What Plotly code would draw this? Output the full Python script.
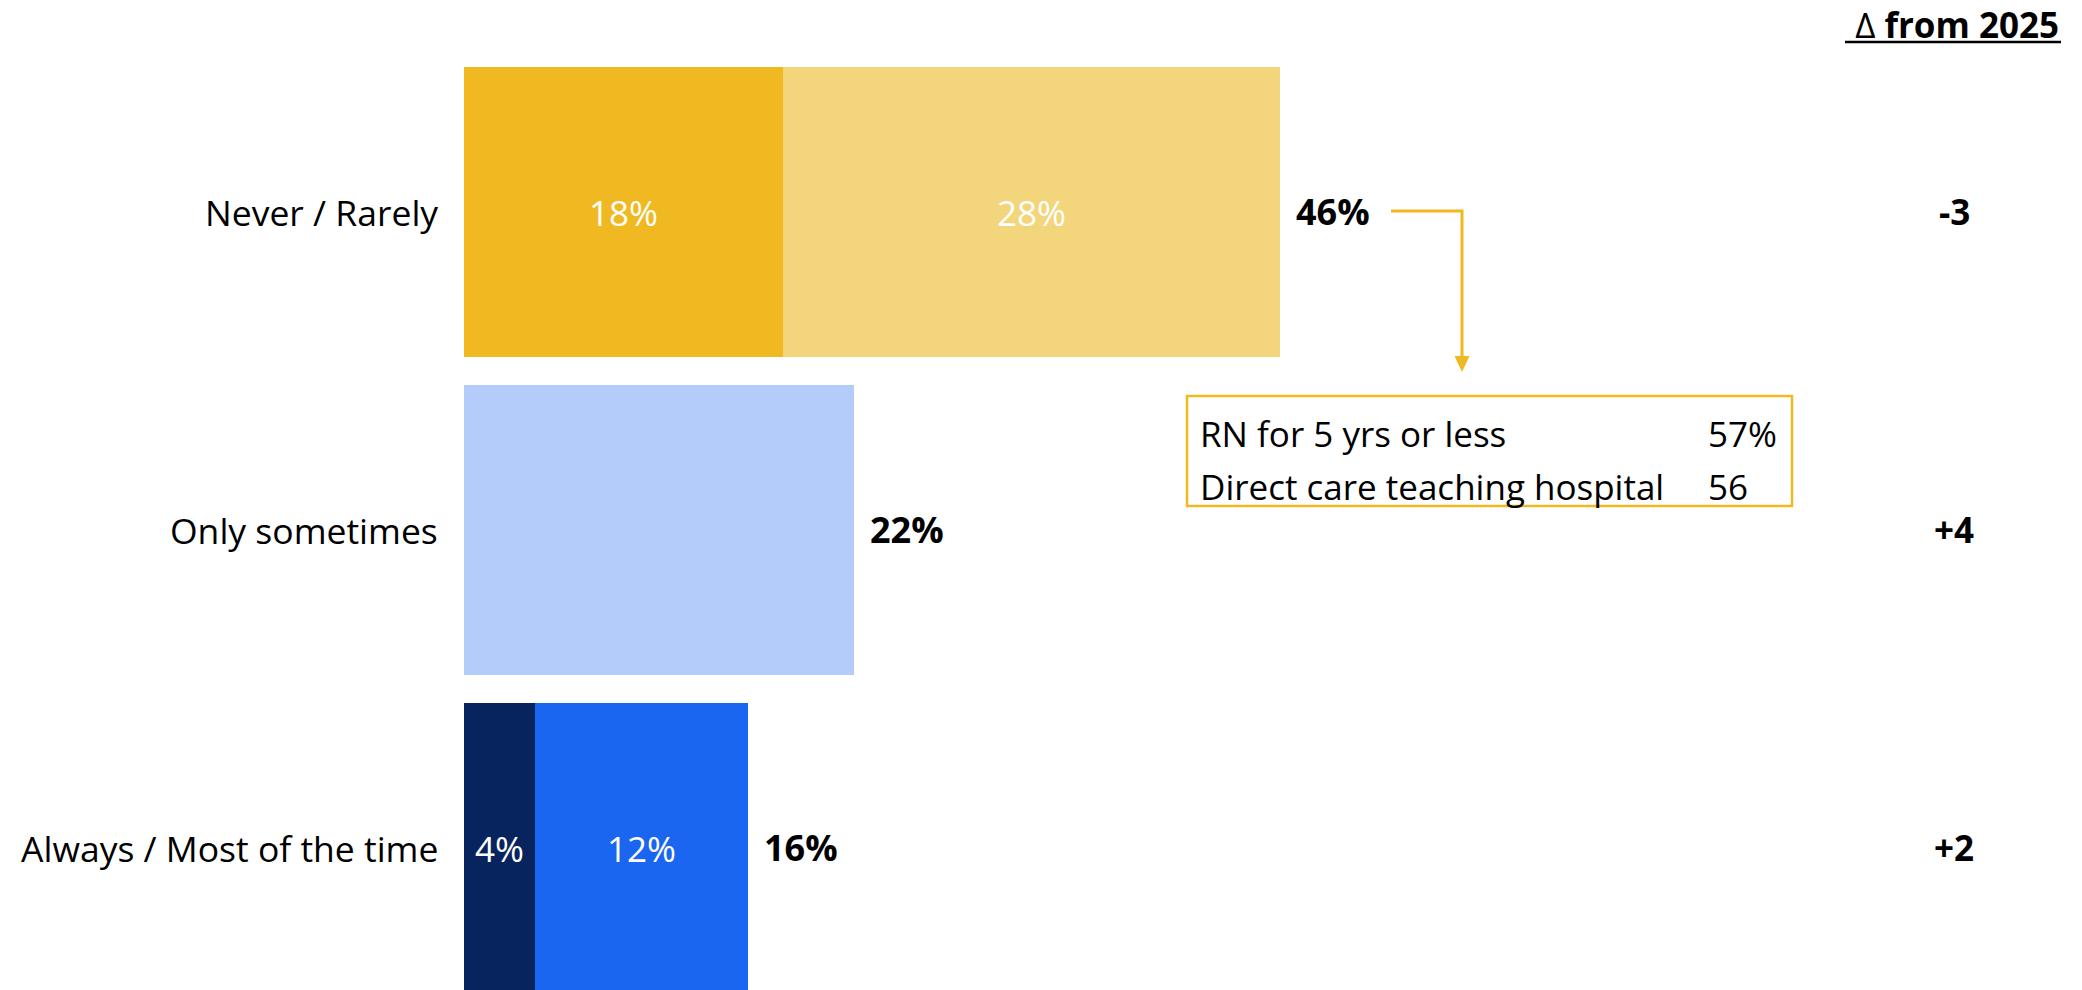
import plotly.graph_objects as go

# Survey response shares (%), split into two shades per row
categories = ["Never / Rarely", "Only sometimes", "Always / Most of the time"]
first_part = [18, 0, 4]
second_part = [28, 22, 12]
totals = [46, 22, 16]
show_split = [True, False, True]
delta_from_2025 = [-3, 4, 2]

first_colors = ["#F0B921", "#B4CCFA", "#08245F"]
second_colors = ["#F3D57C", "#B4CCFA", "#1A66F0"]

callout_rows = ["RN for 5 yrs or less", "Direct care teaching hospital"]
callout_values = ["57%", "56"]

W, H = 2082, 990
FONT = "Segoe UI, Open Sans, sans-serif"
GOLD = "#F0B921"

rows = list(range(len(categories)))

fig = go.Figure()
for part, colors in ((first_part, first_colors), (second_part, second_colors)):
    fig.add_trace(go.Bar(
        y=rows, x=part, orientation="h",
        marker=dict(color=colors, line=dict(width=0)),
        text=[f"{v}%" if s else "" for v, s in zip(part, show_split)],
        textposition="inside", insidetextanchor="middle", textangle=0,
        textfont=dict(family=FONT, size=35, color="white"),
        constraintext="none", width=0.912, hoverinfo="skip",
    ))

annotations = []
# category labels, totals and change column
for i, (cat, tot) in enumerate(zip(categories, totals)):
    annotations.append(dict(x=0, y=i, xref="x", yref="y", text=cat,
                            xanchor="right", yanchor="middle", xshift=-24,
                            showarrow=False,
                            font=dict(family=FONT, size=35.5, color="#000")))
    annotations.append(dict(x=tot, y=i, xref="x", yref="y", text=f"<b>{tot}%</b>",
                            xanchor="left", yanchor="middle", xshift=14,
                            showarrow=False,
                            font=dict(family=FONT, size=36, color="#000")))
    d = delta_from_2025[i]
    annotations.append(dict(x=1954 / W, y=i, xref="paper", yref="y",
                            text=f"<b>{d:+d}</b>", xanchor="center", yanchor="middle",
                            showarrow=False,
                            font=dict(family=FONT, size=35, color="#000")))

# column header
annotations.append(dict(x=2061 / W, y=1 - 24 / H, xref="paper", yref="paper",
                        text="∆ <b>from 2025</b>", xanchor="right", yanchor="middle",
                        showarrow=False,
                        font=dict(family=FONT, size=35, color="#000")))

# callout box contents
row_y = [433, 486]
for label, val, yy in zip(callout_rows, callout_values, row_y):
    annotations.append(dict(x=1198 / W, y=1 - yy / H, xref="paper", yref="paper",
                            text=label, xanchor="left", yanchor="middle",
                            showarrow=False,
                            font=dict(family=FONT, size=35, color="#000")))
    annotations.append(dict(x=1706 / W, y=1 - yy / H, xref="paper", yref="paper",
                            text=val, xanchor="left", yanchor="middle",
                            showarrow=False,
                            font=dict(family=FONT, size=35, color="#000")))


def px(x):
    return x / W


def py(y):
    return 1 - y / H


shapes = [
    # header underline
    dict(type="line", xref="paper", yref="paper",
         x0=px(1845), x1=px(2061), y0=py(42), y1=py(42),
         line=dict(color="#000", width=2.5)),
    # elbow connector from the top total to the callout
    dict(type="path", xref="paper", yref="paper",
         path=f"M {px(1391)},{py(211)} L {px(1462)},{py(211)} L {px(1462)},{py(358)}",
         line=dict(color=GOLD, width=3)),
    dict(type="path", xref="paper", yref="paper",
         path=f"M {px(1454.5)},{py(356)} L {px(1469.5)},{py(356)} L {px(1462)},{py(372)} Z",
         fillcolor=GOLD, line=dict(color=GOLD, width=0)),
    # callout frame
    dict(type="rect", xref="paper", yref="paper",
         x0=px(1187), x1=px(1792), y0=py(396), y1=py(506),
         line=dict(color=GOLD, width=2.5), fillcolor="rgba(0,0,0,0)"),
]

px_per_pct = 17.75
x_left = 463.5
fig.update_layout(
    width=W, height=H,
    margin=dict(l=0, r=0, t=0, b=0),
    barmode="stack", bargap=0,
    plot_bgcolor="white", paper_bgcolor="white",
    showlegend=False,
    xaxis=dict(range=[-x_left / px_per_pct, (W - x_left) / px_per_pct],
               visible=False, fixedrange=True),
    yaxis=dict(range=[2.4475, -0.6657], visible=False, fixedrange=True),
    annotations=annotations,
    shapes=shapes,
)

fig.write_html("out.html")
